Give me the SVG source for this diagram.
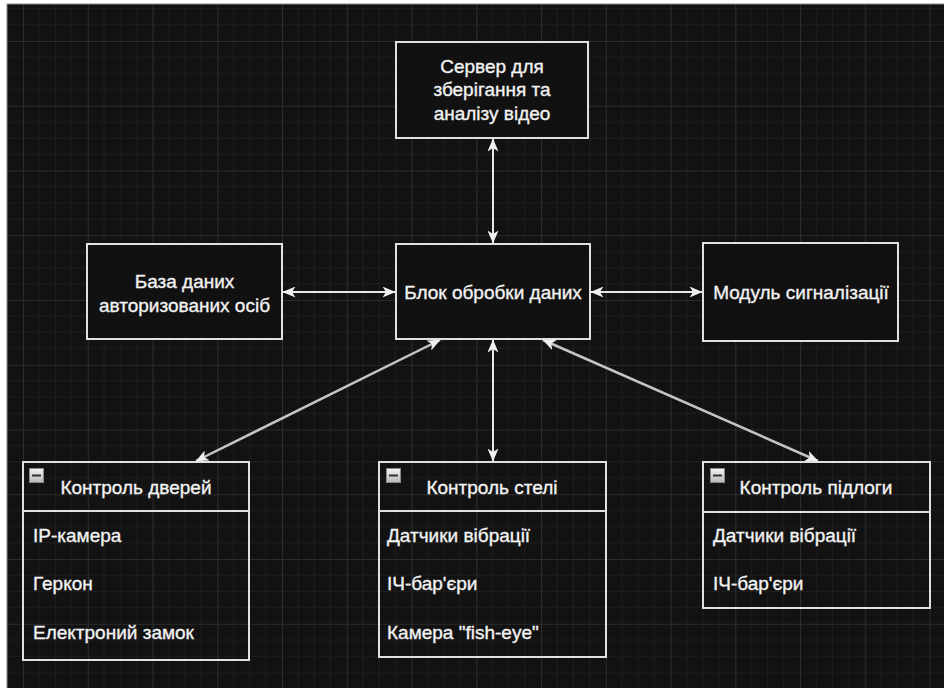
<svg xmlns="http://www.w3.org/2000/svg" width="944" height="688" viewBox="0 0 944 688">
<style>
.box{fill:#111111;stroke:#e0e0e0;stroke-width:2}
.cont{fill:none;stroke:#e0e0e0;stroke-width:2}
.t{font-family:"Liberation Sans",Arial,sans-serif;font-size:19px;fill:#f2f2f2;stroke:#f2f2f2;stroke-width:0.35}
.c{text-anchor:middle}
.edge{fill:none;stroke:#e8e8e8;stroke-width:2}
.diag{fill:none;stroke:#c4c4c4;stroke-width:2.5}
</style>
<defs>
<pattern id="grid" patternUnits="userSpaceOnUse" x="23" y="41" width="64.75" height="64.75">
<rect width="64.75" height="64.75" fill="#121212"/>
<path d="M16.19 0V64.75M32.38 0V64.75M48.56 0V64.75M0 16.19H64.75M0 32.38H64.75M0 48.56H64.75" stroke="#1d1d1d" stroke-width="1"/>
<path d="M0.5 0V64.75M0 0.5H64.75" stroke="#2c2c2c" stroke-width="1.2"/>
</pattern>
<linearGradient id="ig" x1="0" y1="0" x2="0" y2="1">
<stop offset="0" stop-color="#f4f4f4"/>
<stop offset="1" stop-color="#b8b8b8"/>
</linearGradient>
<marker id="ah" markerUnits="userSpaceOnUse" markerWidth="13" markerHeight="11" refX="12.5" refY="5.5" orient="auto-start-reverse">
<path d="M0,0 L13,5.5 L0,11 L3.5,5.5 z" fill="#f0f0f0"/>
</marker>
<g id="icon">
<rect x="0.5" y="0.5" width="14" height="14" fill="url(#ig)" stroke="#8a8a8a" stroke-width="1"/>
<rect x="3" y="6.5" width="9" height="2" fill="#333"/>
</g>
</defs>
<rect width="944" height="688" fill="#ffffff"/>
<rect x="7" y="4" width="940" height="690" fill="url(#grid)" stroke="#8c8c8c" stroke-width="1"/>

<g id="connectors">
<line class="edge" x1="493" y1="139" x2="493" y2="243" marker-start="url(#ah)" marker-end="url(#ah)"/>
<line class="edge" x1="283" y1="292" x2="395" y2="292" marker-start="url(#ah)" marker-end="url(#ah)"/>
<line class="edge" x1="591" y1="292" x2="702" y2="292" marker-start="url(#ah)" marker-end="url(#ah)"/>
<line class="diag" x1="440" y1="340" x2="196" y2="461" marker-start="url(#ah)" marker-end="url(#ah)"/>
<line class="edge" x1="493" y1="340" x2="493" y2="461" marker-start="url(#ah)" marker-end="url(#ah)"/>
<line class="diag" x1="543" y1="340" x2="818" y2="461" marker-start="url(#ah)" marker-end="url(#ah)"/>
</g>

<g id="server">
<rect class="box" x="396" y="42" width="192" height="96"/>
<text class="t c" x="492" y="73">Сервер для</text>
<text class="t c" x="492" y="96">зберігання та</text>
<text class="t c" x="492" y="120">аналізу відео</text>
</g>

<g id="database">
<rect class="box" x="87" y="244" width="195" height="95"/>
<text class="t c" x="184.5" y="288">База даних</text>
<text class="t c" x="184.5" y="312">авторизованих осіб</text>
</g>

<g id="processing">
<rect class="box" x="396" y="244" width="194" height="95"/>
<text class="t c" x="493" y="299">Блок обробки даних</text>
</g>

<g id="alarm">
<rect class="box" x="703" y="243" width="195" height="98"/>
<text class="t c" x="801" y="299">Модуль сигналізації</text>
</g>

<g id="doors">
<rect class="cont" x="23" y="462" width="226" height="198"/>
<line class="cont" x1="23" y1="511" x2="249" y2="511"/>
<use href="#icon" x="29" y="468"/>
<text class="t c" x="136" y="494">Контроль дверей</text>
<text class="t" x="33" y="542">IP-камера</text>
<text class="t" x="33" y="590">Геркон</text>
<text class="t" x="33" y="639">Електроний замок</text>
</g>

<g id="ceiling">
<rect class="cont" x="379" y="462" width="227" height="195"/>
<line class="cont" x1="379" y1="511" x2="606" y2="511"/>
<use href="#icon" x="386" y="468"/>
<text class="t c" x="492" y="494">Контроль стелі</text>
<text class="t" x="387" y="542">Датчики вібрації</text>
<text class="t" x="387" y="590">ІЧ-бар'єри</text>
<text class="t" x="387" y="639">Камера "fish-eye"</text>
</g>

<g id="floor">
<rect class="cont" x="703" y="462" width="227" height="146"/>
<line class="cont" x1="703" y1="512" x2="930" y2="512"/>
<use href="#icon" x="710" y="468"/>
<text class="t c" x="816" y="494">Контроль підлоги</text>
<text class="t" x="713" y="542">Датчики вібрації</text>
<text class="t" x="713" y="590">ІЧ-бар'єри</text>
</g>
</svg>
